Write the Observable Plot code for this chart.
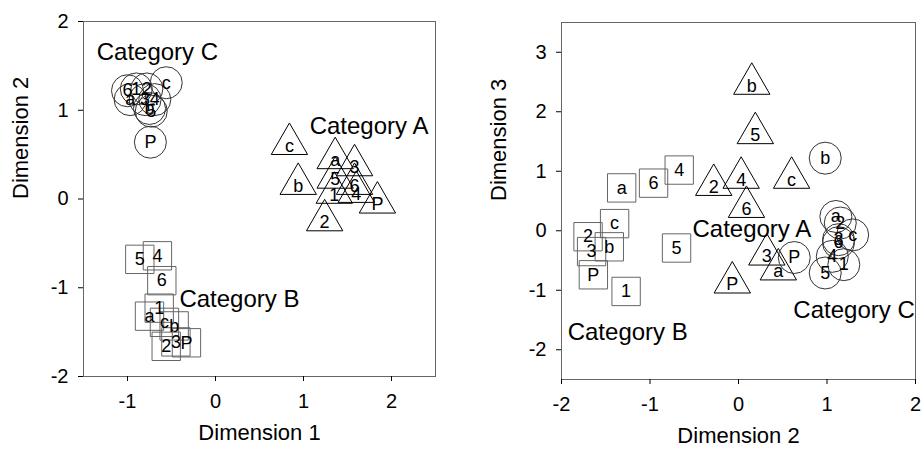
<!DOCTYPE html>
<html>
<head>
<meta charset="utf-8">
<script src="https://cdn.jsdelivr.net/npm/d3@7"></script>
<script src="https://cdn.jsdelivr.net/npm/@observablehq/plot@0.6"></script>
<style>
  body { margin: 0; background: white; }
  #wrap { display: flex; width: 924px; height: 452px; }
</style>
</head>
<body>
<div id="wrap"></div>
<script>
// ---------- Data ----------
// Left panel: Dimension 1 (x) vs Dimension 2 (y)
const leftA_labels = ["a", "b", "c", "1", "2", "3", "4", "5", "6", "P"];
const leftA_dim1 = [1.36, 0.94, 0.84, 1.35, 1.24, 1.58, 1.60, 1.36, 1.58, 1.84];
const leftA_dim2 = [0.46, 0.17, 0.62, 0.07, -0.24, 0.38, 0.08, 0.24, 0.17, -0.04];

const leftB_labels = ["a", "b", "c", "1", "2", "3", "4", "5", "6", "P"];
const leftB_dim1 = [-0.75, -0.47, -0.58, -0.64, -0.56, -0.45, -0.66, -0.86, -0.61, -0.33];
const leftB_dim2 = [-1.32, -1.43, -1.39, -1.23, -1.66, -1.61, -0.64, -0.68, -0.92, -1.62];

const leftC_labels = ["a", "b", "c", "1", "2", "3", "4", "5", "6", "P"];
const leftC_dim1 = [-0.97, -0.75, -0.56, -0.90, -0.78, -0.80, -0.69, -0.73, -1.00, -0.74];
const leftC_dim2 = [1.12, 1.02, 1.31, 1.24, 1.24, 1.12, 1.12, 0.99, 1.22, 0.64];

// Right panel: Dimension 2 (x) vs Dimension 3 (y)
const rightA_labels = ["a", "b", "c", "2", "3", "4", "5", "6", "P"];
const rightA_dim2 = [0.45, 0.15, 0.60, -0.28, 0.32, 0.03, 0.19, 0.09, -0.07];
const rightA_dim3 = [-0.65, 2.47, 0.89, 0.77, -0.40, 0.89, 1.64, 0.40, -0.87];

const rightB_labels = ["a", "b", "c", "1", "2", "3", "4", "5", "6", "P"];
const rightB_dim2 = [-1.32, -1.46, -1.40, -1.27, -1.70, -1.66, -0.67, -0.70, -0.96, -1.64];
const rightB_dim3 = [0.72, -0.27, 0.12, -1.02, -0.10, -0.35, 1.02, -0.29, 0.80, -0.74];

const rightC_labels = ["a", "b", "c", "1", "2", "3", "4", "5", "6", "P"];
const rightC_dim2 = [1.10, 0.98, 1.29, 1.19, 1.15, 1.13, 1.06, 0.98, 1.13, 0.63];
const rightC_dim3 = [0.24, 1.22, -0.07, -0.57, 0.13, -0.15, -0.43, -0.71, -0.20, -0.45];

// Category annotations
const catNames = ["Category A", "Category B", "Category C"];
const leftCat_x = [1.07, -0.41, -1.35];
const leftCat_y = [0.82, -1.13, 1.65];
const rightCat_x = [-0.52, -1.93, 0.62];
const rightCat_y = [0.02, -1.71, -1.33];

// Tick values
const leftXTicks = [-1, 0, 1, 2];
const leftYTicks = [-2, -1, 0, 1, 2];
const rightXTicks = [-2, -1, 0, 1, 2];
const rightYTicks = [-2, -1, 0, 1, 2, 3];

// ---------- Build ----------
const rows = (labels, xs, ys) => labels.map((l, i) => ({label: l, x: xs[i], y: ys[i]}));
const FONT = "Liberation Sans, Arial, Helvetica, sans-serif";
const fmt = d => String(d).replace("\u2212", "-");

function panel({A, B, C, cats, xDomain, yDomain, xTicks, yTicks, xLabel, yLabel, margins}) {
  return Plot.plot({
    width: 462,
    height: 452,
    ...margins,
    style: {fontFamily: FONT, fontSize: "20px", background: "white", color: "black", overflow: "visible"},
    x: {domain: xDomain},
    y: {domain: yDomain},
    marks: [
      Plot.frame({stroke: "#666", strokeWidth: 1}),
      Plot.axisX({ticks: xTicks, tickSize: 5, tickPadding: 12, fontSize: 20, tickFormat: fmt, label: null}),
      Plot.axisY({ticks: yTicks, tickSize: 5, tickPadding: 10, fontSize: 20, tickFormat: fmt, label: null}),
      // axis titles
      Plot.text([xLabel], {frameAnchor: "bottom", dy: 63, fontSize: 22, fill: "black"}),
      Plot.text([yLabel], {frameAnchor: "left", rotate: -90, dx: -63, fontSize: 22, fill: "black"}),
      // squares (Category B)
      Plot.dot(B, {x: "x", y: "y", symbol: "square", r: 16, stroke: "#666", strokeWidth: 1, fill: "none"}),
      Plot.text(B, {x: "x", y: "y", text: "label", fontSize: 18, fill: "black"}),
      // triangles (Category A)
      Plot.dot(A, {x: "x", y: "y", symbol: "triangle", r: 13.5, stroke: "black", strokeWidth: 1, fill: "none"}),
      Plot.text(A, {x: "x", y: "y", text: "label", fontSize: 18, fill: "black", dy: 2}),
      // circles (Category C)
      Plot.dot(C, {x: "x", y: "y", symbol: "circle", r: 16, stroke: "#333", strokeWidth: 1, fill: "none"}),
      Plot.text(C, {x: "x", y: "y", text: "label", fontSize: 18, fill: "black"}),
      // category annotations
      Plot.text(cats, {x: "x", y: "y", text: "label", textAnchor: "start", fontSize: 24, fill: "black"})
    ]
  });
}

const left = panel({
  A: rows(leftA_labels, leftA_dim1, leftA_dim2),
  B: rows(leftB_labels, leftB_dim1, leftB_dim2),
  C: rows(leftC_labels, leftC_dim1, leftC_dim2),
  cats: rows(catNames, leftCat_x, leftCat_y),
  xDomain: [-1.5, 2.5], yDomain: [-2, 2],
  xTicks: leftXTicks, yTicks: leftYTicks,
  xLabel: "Dimension 1", yLabel: "Dimension 2",
  margins: {marginLeft: 83, marginRight: 27, marginTop: 21, marginBottom: 76}
});

const right = panel({
  A: rows(rightA_labels, rightA_dim2, rightA_dim3),
  B: rows(rightB_labels, rightB_dim2, rightB_dim3),
  C: rows(rightC_labels, rightC_dim2, rightC_dim3),
  cats: rows(catNames, rightCat_x, rightCat_y),
  xDomain: [-2, 2], yDomain: [-2.5, 3.5],
  xTicks: rightXTicks, yTicks: rightYTicks,
  xLabel: "Dimension 2", yLabel: "Dimension 3",
  margins: {marginLeft: 99, marginRight: 9, marginTop: 22, marginBottom: 73}
});

document.getElementById("wrap").append(left, right);
</script>
</body>
</html>
